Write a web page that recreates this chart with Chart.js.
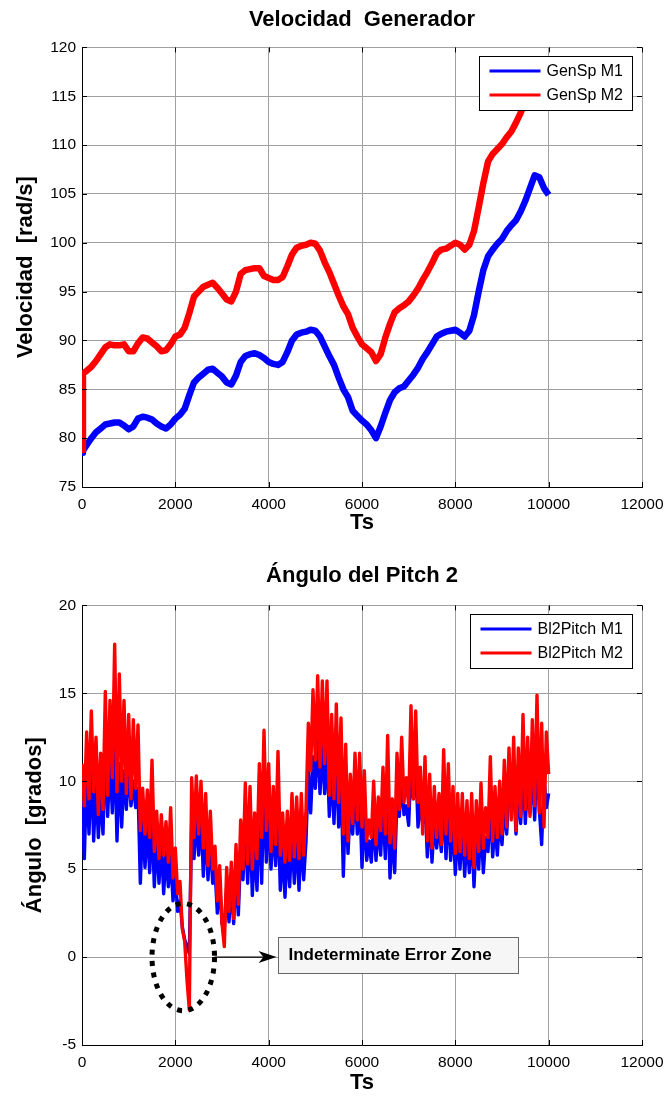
<!DOCTYPE html>
<html>
<head>
<meta charset="utf-8">
<script src="https://cdn.jsdelivr.net/npm/chart.js@4.4.1/dist/chart.umd.min.js"></script>
<style>
  body { margin: 0; background: #fff; }
  .panel { position: absolute; left: 0; }
</style>
</head>
<body>
<div class="panel" style="top:0"><canvas id="genChart" width="665" height="550"></canvas></div>
<div class="panel" style="top:550px"><canvas id="pitchChart" width="665" height="546"></canvas></div>
<script>
// Generator speed samples
const ts1 = [0, 20,
    100, 200, 300, 400, 500, 600, 700, 800, 900, 1000,
    1100, 1200, 1300, 1400, 1500, 1600, 1700, 1800, 1900, 2000,
    2100, 2200, 2300, 2400, 2500, 2600, 2700, 2800, 2900, 3000,
    3100, 3200, 3300, 3400, 3500, 3600, 3700, 3800, 3900, 4000,
    4100, 4200, 4300, 4400, 4500, 4600, 4700, 4800, 4900, 5000,
    5100, 5200, 5300, 5400, 5500, 5600, 5700, 5800, 5900, 6000,
    6100, 6200, 6300, 6400, 6500, 6600, 6700, 6800, 6900, 7000,
    7100, 7200, 7300, 7400, 7500, 7600, 7700, 7800, 7900, 8000,
    8100, 8200, 8300, 8400, 8500, 8600, 8700, 8800, 8900, 9000,
    9100, 9200, 9300, 9400, 9500, 9600, 9700, 9800, 9900, 10000];

const genSpM1 = [78.5, 78.7,
    79.3, 80.0, 80.6, 81.0, 81.4, 81.5, 81.6, 81.6, 81.3, 80.9,
    81.2, 82.0, 82.2, 82.1, 81.9, 81.5, 81.2, 81.0, 81.4, 82.0,
    82.4, 83.0, 84.4, 85.7, 86.2, 86.6, 87.0, 87.1, 86.7, 86.3,
    85.7, 85.5, 86.4, 87.8, 88.4, 88.6, 88.7, 88.5, 88.2, 87.8,
    87.6, 87.5, 87.8, 88.8, 90.0, 90.6, 90.8, 90.9, 91.1, 91.0,
    90.4, 89.4, 88.4, 87.5, 86.2, 85.0, 84.2, 82.8, 82.3, 81.8,
    81.4, 80.8, 80.0, 81.2, 82.6, 83.9, 84.7, 85.1, 85.3, 85.9,
    86.5, 87.2, 88.1, 88.8, 89.6, 90.4, 90.7, 90.9, 91.0, 91.1,
    90.8, 90.4, 91.0, 92.6, 95.0, 97.2, 98.6, 99.3, 99.9, 100.4,
    101.2, 101.8, 102.3, 103.2, 104.3, 105.6, 106.9, 106.7, 105.6, 104.9];

const genSpM2 = [78.8, 86.6,
    86.9, 87.3, 87.9, 88.6, 89.3, 89.6, 89.5, 89.5, 89.6, 88.9,
    88.9, 89.7, 90.3, 90.2, 89.8, 89.4, 88.9, 89.0, 89.6, 90.4,
    90.6, 91.3, 92.8, 94.5, 95.0, 95.5, 95.7, 95.9, 95.4, 94.8,
    94.2, 94.0, 95.0, 96.8, 97.2, 97.3, 97.4, 97.4, 96.6, 96.4,
    96.2, 96.2, 96.5, 97.6, 98.8, 99.5, 99.7, 99.8, 100.0, 99.9,
    99.2, 98.0, 97.0, 95.8, 94.6, 93.5, 92.7, 91.3, 90.4, 89.6,
    89.2, 88.8, 87.9, 88.6, 90.3, 91.7, 92.9, 93.3, 93.6, 94.0,
    94.6, 95.3, 96.2, 97.0, 97.9, 98.9, 99.3, 99.4, 99.7, 100.0,
    99.8, 99.3, 99.8, 101.2, 103.6, 106.1, 108.3, 109.1, 109.6, 110.1,
    110.8, 111.4, 112.3, 113.3, 114.5, 115.6, 116.4, 117.2, 118.0, 118.6];

// Blade 2 pitch samples
const ts2 = [
    0, 50, 100, 150, 200, 250, 300, 350, 400, 450,
    500, 550, 600, 650, 700, 750, 800, 850, 900, 950,
    1000, 1050, 1100, 1150, 1200, 1250, 1300, 1350, 1400, 1450,
    1500, 1550, 1600, 1650, 1700, 1750, 1800, 1850, 1900, 1950,
    2000, 2050, 2100, 2150, 2200, 2250, 2300, 2350, 2400, 2450,
    2500, 2550, 2600, 2650, 2700, 2750, 2800, 2850, 2900, 2950,
    3000, 3050, 3100, 3150, 3200, 3250, 3300, 3350, 3400, 3450,
    3500, 3550, 3600, 3650, 3700, 3750, 3800, 3850, 3900, 3950,
    4000, 4050, 4100, 4150, 4200, 4250, 4300, 4350, 4400, 4450,
    4500, 4550, 4600, 4650, 4700, 4750, 4800, 4850, 4900, 4950,
    5000, 5050, 5100, 5150, 5200, 5250, 5300, 5350, 5400, 5450,
    5500, 5550, 5600, 5650, 5700, 5750, 5800, 5850, 5900, 5950,
    6000, 6050, 6100, 6150, 6200, 6250, 6300, 6350, 6400, 6450,
    6500, 6550, 6600, 6650, 6700, 6750, 6800, 6850, 6900, 6950,
    7000, 7050, 7100, 7150, 7200, 7250, 7300, 7350, 7400, 7450,
    7500, 7550, 7600, 7650, 7700, 7750, 7800, 7850, 7900, 7950,
    8000, 8050, 8100, 8150, 8200, 8250, 8300, 8350, 8400, 8450,
    8500, 8550, 8600, 8650, 8700, 8750, 8800, 8850, 8900, 8950,
    9000, 9050, 9100, 9150, 9200, 9250, 9300, 9350, 9400, 9450,
    9500, 9550, 9600, 9650, 9700, 9750, 9800, 9850, 9900, 9950,
    10000];

const bl2PitchM1 = [
    9.0, 5.6, 10.4, 7.0, 11.0, 6.6, 10.0, 6.8, 9.4, 7.0,
    12.0, 8.0, 11.4, 8.2, 12.2, 6.6, 11.0, 7.4, 10.6, 8.4,
    10.8, 8.6, 10.0, 8.5, 9.6, 4.2, 7.8, 5.1, 7.6, 4.8,
    8.0, 4.0, 6.8, 4.2, 6.6, 3.6, 6.0, 4.0, 5.8, 3.2,
    4.6, 2.6, 3.2, 1.7, 1.0, 0.6, 0.2, 7.6, 5.6, 8.0,
    5.8, 8.4, 4.6, 7.6, 4.4, 6.8, 4.2, 5.0, 2.5, 4.2,
    1.9, 1.7, 4.0, 2.0, 4.2, 1.9, 4.8, 2.4, 6.0, 4.4,
    7.6, 4.2, 7.8, 3.5, 6.4, 3.8, 8.6, 4.2, 10.0, 5.4,
    8.4, 5.0, 7.6, 5.2, 8.6, 3.8, 6.2, 3.4, 6.4, 4.0,
    7.2, 4.2, 7.0, 3.8, 7.0, 4.4, 6.6, 10.6, 8.2, 11.4,
    9.6, 12.6, 9.3, 12.0, 9.3, 11.8, 8.0, 11.0, 7.6, 11.6,
    7.4, 10.6, 4.6, 9.2, 5.9, 8.6, 7.0, 9.6, 7.0, 9.4,
    5.1, 8.4, 5.5, 6.6, 5.4, 8.0, 5.5, 7.6, 5.8, 8.6,
    5.6, 9.6, 4.5, 7.4, 4.8, 9.2, 8.0, 10.0, 8.1, 8.6,
    7.5, 11.0, 9.0, 11.2, 7.4, 8.8, 7.6, 9.0, 5.7, 8.4,
    5.4, 7.8, 6.2, 7.6, 6.0, 9.2, 5.6, 8.8, 5.5, 7.8,
    4.7, 7.4, 5.0, 7.6, 4.6, 7.0, 4.8, 7.4, 4.0, 7.0,
    5.0, 7.8, 4.8, 6.8, 6.0, 8.8, 5.7, 7.6, 5.8, 8.0,
    6.4, 8.8, 7.0, 9.4, 9.3, 10.0, 7.0, 9.6, 7.6, 11.0,
    7.6, 10.0, 8.2, 10.8, 7.8, 11.6, 8.4, 6.4, 10.2, 8.5,
    9.3];

const bl2PitchM2 = [
    11.0, 8.6, 12.8, 9.0, 14.0, 9.4, 12.5, 8.1, 11.6, 8.4,
    15.1, 9.2, 14.6, 10.2, 17.8, 9.4, 16.1, 10.0, 14.6, 9.3,
    13.8, 9.0, 13.5, 9.6, 13.2, 7.2, 9.6, 7.0, 9.5, 6.8,
    11.2, 6.0, 8.3, 5.6, 8.1, 5.8, 7.7, 5.4, 8.5, 4.5,
    6.2, 3.6, 4.3, 1.6, 0.9, -1.3, -3.0, 10.2, 6.8, 10.3,
    7.0, 10.0, 6.2, 9.3, 5.2, 8.3, 5.0, 6.3, 3.2, 5.2,
    1.9, 0.6, 5.1, 2.6, 5.4, 2.2, 6.4, 3.0, 7.8, 5.0,
    9.9, 5.3, 9.7, 5.0, 8.2, 5.6, 11.0, 6.8, 12.9, 7.2,
    11.0, 6.0, 9.7, 6.4, 11.7, 5.8, 8.2, 5.4, 8.3, 5.5,
    9.3, 5.7, 9.1, 5.6, 9.3, 5.8, 8.4, 13.3, 10.6, 15.2,
    11.2, 16.0, 10.8, 15.7, 11.0, 15.7, 9.2, 13.8, 9.0, 14.4,
    8.8, 13.6, 7.0, 12.1, 6.6, 10.4, 7.6, 11.6, 7.8, 11.6,
    7.4, 10.6, 6.6, 7.8, 6.8, 10.0, 6.4, 9.1, 7.2, 10.8,
    7.0, 12.6, 6.5, 9.0, 6.2, 11.6, 8.4, 12.5, 8.8, 10.2,
    8.6, 14.3, 9.0, 14.0, 8.8, 10.8, 7.0, 11.4, 6.6, 10.4,
    6.2, 9.7, 6.8, 9.3, 6.4, 11.8, 7.0, 11.0, 6.6, 9.7,
    5.9, 9.3, 6.0, 9.3, 5.8, 8.9, 5.6, 9.3, 5.1, 8.9,
    6.0, 9.9, 6.2, 8.5, 6.8, 11.4, 6.6, 9.7, 6.8, 10.0,
    7.0, 11.2, 7.4, 11.9, 7.8, 12.5, 7.2, 11.9, 8.0, 13.8,
    8.4, 12.5, 8.0, 13.5, 8.6, 14.9, 8.2, 13.3, 7.4, 12.8,
    10.4];

const tsRange = [0, 12000];
const genRange = [75, 120];
const pitchRange = [-5, 20];

// callout around the pitch dip
const zone = { t: 2170, v: 0, dt: 670, dv: 3.05, boxT: 4210, boxW: 240, boxH: 36, text: 'Indeterminate Error Zone' };

const FONT = '"Liberation Sans", Arial, Helvetica, sans-serif';
Chart.defaults.font.family = FONT;
Chart.defaults.color = '#000';

const toPoints = (xs, ys) => xs.map((t, i) => ({ x: t, y: ys[i] }));

// MATLAB-like inner ticks and boxed legend
const matlabAxes = {
    id: 'matlabAxes',
    afterDatasetsDraw(chart) {
        const { ctx, chartArea: a, scales: { x, y } } = chart;
        ctx.save();
        ctx.strokeStyle = '#000';
        ctx.lineWidth = 1;
        ctx.beginPath();
        x.ticks.forEach(t => {
            const px = Math.round(x.getPixelForValue(t.value)) + 0.5;
            ctx.moveTo(px, a.bottom); ctx.lineTo(px, a.bottom - 5);
            ctx.moveTo(px, a.top); ctx.lineTo(px, a.top + 5);
        });
        y.ticks.forEach(t => {
            const py = Math.round(y.getPixelForValue(t.value)) + 0.5;
            ctx.moveTo(a.left, py); ctx.lineTo(a.left + 5, py);
            ctx.moveTo(a.right, py); ctx.lineTo(a.right - 5, py);
        });
        ctx.stroke();

        const items = chart.data.datasets;
        ctx.font = '16px ' + FONT;
        const textW = Math.max(...items.map(d => ctx.measureText(d.label).width));
        const w = Math.round(10 + 51 + 6 + textW + 10);
        const h = 54;
        const right = Math.round(a.right) - 9.5;
        const top = Math.round(a.top) + 9.5;
        const left = right - w;
        ctx.fillStyle = '#fff';
        ctx.fillRect(left, top, w, h);
        ctx.strokeStyle = '#000';
        ctx.strokeRect(left, top, w, h);
        items.forEach((d, i) => {
            const ly = top + 14.5 + i * 24;
            ctx.strokeStyle = d.borderColor;
            ctx.lineWidth = 3;
            ctx.beginPath();
            ctx.moveTo(left + 10, ly);
            ctx.lineTo(left + 61, ly);
            ctx.stroke();
            ctx.fillStyle = '#000';
            ctx.textBaseline = 'middle';
            ctx.textAlign = 'left';
            ctx.fillText(d.label, left + 67, ly + 1);
        });
        ctx.restore();
    }
};

const errorZone = {
    id: 'errorZone',
    afterDatasetsDraw(chart) {
        const { ctx, scales: { x, y } } = chart;
        const cx = x.getPixelForValue(zone.t);
        const cy = y.getPixelForValue(zone.v);
        const rx = x.getPixelForValue(zone.t + zone.dt) - cx;
        const ry = cy - y.getPixelForValue(zone.v + zone.dv);
        ctx.save();
        ctx.strokeStyle = '#000';
        ctx.lineWidth = 5;
        ctx.setLineDash([5, 6.5]);
        ctx.beginPath();
        ctx.ellipse(cx, cy, rx, ry, 0, 0, Math.PI * 2);
        ctx.stroke();
        ctx.setLineDash([]);

        const bx = Math.round(x.getPixelForValue(zone.boxT)) + 0.5;
        const tip = bx - 2;
        ctx.lineWidth = 1.2;
        ctx.beginPath();
        ctx.moveTo(cx + rx, cy);
        ctx.lineTo(tip - 12, cy);
        ctx.stroke();
        ctx.fillStyle = '#000';
        ctx.beginPath();
        ctx.moveTo(tip, cy);
        ctx.lineTo(tip - 18, cy - 6);
        ctx.lineTo(tip - 13, cy);
        ctx.lineTo(tip - 18, cy + 6);
        ctx.closePath();
        ctx.fill();

        const by = Math.round(cy - zone.boxH / 2 - 2) + 0.5;
        ctx.fillStyle = '#f6f6f6';
        ctx.fillRect(bx, by, zone.boxW, zone.boxH);
        ctx.strokeStyle = '#666';
        ctx.lineWidth = 1;
        ctx.strokeRect(bx, by, zone.boxW, zone.boxH);
        ctx.font = 'bold 17px ' + FONT;
        ctx.fillStyle = '#000';
        ctx.textBaseline = 'middle';
        ctx.textAlign = 'left';
        ctx.fillText(zone.text, bx + 10, by + zone.boxH / 2);
        ctx.restore();
    }
};

function chartOptions(cfg) {
    return {
        responsive: false,
        animation: false,
        events: [],
        elements: { point: { radius: 0 }, line: { tension: 0 } },
        layout: { padding: { left: 0, right: 23, top: 0, bottom: 0 } },
        plugins: {
            legend: { display: false },
            tooltip: { enabled: false },
            title: {
                display: true,
                text: cfg.title,
                fullSize: false,
                color: '#000',
                font: { size: 22, weight: 'bold' },
                padding: cfg.titlePad
            }
        },
        scales: {
            x: {
                type: 'linear',
                min: tsRange[0],
                max: tsRange[1],
                ticks: { stepSize: 2000, maxRotation: 0, padding: 8, color: '#000', font: { size: 15.5 }, callback: v => String(v) },
                grid: { color: '#a0a0a0', drawTicks: false },
                border: { color: '#000', width: 1 },
                title: { display: true, text: 'Ts', color: '#000', font: { size: 22, weight: 'bold' }, padding: { top: 0, bottom: cfg.xTitleBottom } },
                afterFit: s => {
                    s.height = cfg.xHeight;
                    s.paddingLeft = 4;
                    s.paddingRight = 20;
                }
            },
            y: {
                min: cfg.yRange[0],
                max: cfg.yRange[1],
                ticks: { stepSize: 5, padding: 6, color: '#000', font: { size: 15.5 }, callback: v => String(v) },
                grid: { color: '#a0a0a0', drawTicks: false },
                border: { color: '#000', width: 1 },
                title: { display: true, text: cfg.yTitle, color: '#000', font: { size: 22, weight: 'bold' }, padding: { top: cfg.yTitleLeft, bottom: 0 } },
                afterFit: s => { s.width = 82; }
            }
        }
    };
}

new Chart(document.getElementById('genChart').getContext('2d'), {
    type: 'line',
    data: {
        datasets: [{
            label: 'GenSp M1',
            data: toPoints(ts1, genSpM1),
            borderColor: 'rgb(0, 0, 255)',
            borderWidth: 6.5,
            borderJoinStyle: 'round',
            order: 1
        }, {
            label: 'GenSp M2',
            data: toPoints(ts1, genSpM2),
            borderColor: 'rgb(255, 0, 0)',
            borderWidth: 6.5,
            borderJoinStyle: 'round',
            order: 0
        }]
    },
    options: chartOptions({
        title: 'Velocidad  Generador',
        titlePad: { top: 7, bottom: 14 },
        yTitle: 'Velocidad  [rad/s]',
        yTitleLeft: 13,
        yRange: genRange,
        xHeight: 63,
        xTitleBottom: 14
    }),
    plugins: [matlabAxes]
});

new Chart(document.getElementById('pitchChart').getContext('2d'), {
    type: 'line',
    data: {
        datasets: [{
            label: 'Bl2Pitch M1',
            data: toPoints(ts2, bl2PitchM1),
            borderColor: 'rgb(0, 0, 255)',
            borderWidth: 3.4,
            borderJoinStyle: 'round',
            order: 1
        }, {
            label: 'Bl2Pitch M2',
            data: toPoints(ts2, bl2PitchM2),
            borderColor: 'rgb(255, 0, 0)',
            borderWidth: 3.4,
            borderJoinStyle: 'round',
            order: 0
        }]
    },
    options: chartOptions({
        title: 'Ángulo del Pitch 2',
        titlePad: { top: 13, bottom: 16 },
        yTitle: 'Ángulo  [grados]',
        yTitleLeft: 22,
        yRange: pitchRange,
        xHeight: 51,
        xTitleBottom: 0
    }),
    plugins: [errorZone, matlabAxes]
});
</script>
</body>
</html>
